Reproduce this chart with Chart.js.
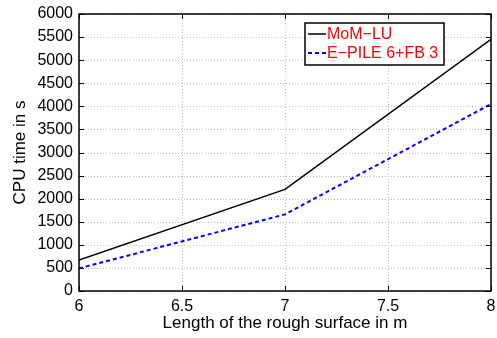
<!DOCTYPE html>
<html>
<head>
<meta charset="utf-8">
<script src="https://cdn.jsdelivr.net/npm/chart.js@4"></script>
<style>
  html, body { margin: 0; padding: 0; background: #fff; }
  #wrap { width: 497px; height: 338px; }
</style>
</head>
<body>
<div id="wrap"><canvas id="cpuChart"></canvas></div>
<script>
// lengths of the rough surface (m)
var lengths = [6, 7, 8];
// CPU time (s)
var momLu = [670, 2200, 5450];
var ePile = [490, 1660, 4050];
var seriesNames = ['MoM\u2212LU', 'E\u2212PILE 6+FB 3'];

var FONT = '"Liberation Sans", Arial, Helvetica, sans-serif';

function toPoints(xs, ys) {
    return xs.map(function (x, i) { return { x: x, y: ys[i] }; });
}

// dotted grid under the lines
var dottedGrid = {
    id: 'dottedGrid',
    beforeDatasetsDraw: function (chart) {
        var ctx = chart.ctx;
        var a = chart.chartArea;
        var xs = chart.scales.x, ys = chart.scales.y;
        ctx.save();
        ctx.strokeStyle = '#b8b8b8';
        ctx.lineWidth = 1;
        ctx.setLineDash([1, 2]);
        ctx.beginPath();
        xs.ticks.forEach(function (t) {
            var px = Math.round(xs.getPixelForValue(t.value)) + 0.5;
            ctx.moveTo(px, a.top); ctx.lineTo(px, a.bottom);
        });
        ys.ticks.forEach(function (t) {
            var py = Math.round(ys.getPixelForValue(t.value)) + 0.5;
            ctx.moveTo(a.left, py); ctx.lineTo(a.right, py);
        });
        ctx.stroke();
        ctx.restore();
    }
};

// frame + inward ticks like the matlab axes, plus boxed legend inside plot
var matlabAxes = {
    id: 'matlabAxes',
    afterDraw: function (chart) {
        var ctx = chart.ctx;
        var a = chart.chartArea;
        var xs = chart.scales.x, ys = chart.scales.y;
        ctx.save();
        ctx.strokeStyle = '#000';
        ctx.lineWidth = 1.5;
        ctx.setLineDash([]);
        ctx.strokeRect(a.left, a.top, a.right - a.left, a.bottom - a.top);
        ctx.lineWidth = 1;
        ctx.beginPath();
        xs.ticks.forEach(function (t) {
            var px = Math.round(xs.getPixelForValue(t.value)) + 0.5;
            ctx.moveTo(px, a.bottom); ctx.lineTo(px, a.bottom - 5);
            ctx.moveTo(px, a.top); ctx.lineTo(px, a.top + 5);
        });
        ys.ticks.forEach(function (t) {
            var py = Math.round(ys.getPixelForValue(t.value)) + 0.5;
            ctx.moveTo(a.left, py); ctx.lineTo(a.left + 5, py);
            ctx.moveTo(a.right, py); ctx.lineTo(a.right - 5, py);
        });
        ctx.stroke();

        // legend
        var bx = 305, by = 23, bw = 139, bh = 42;
        ctx.fillStyle = '#fff';
        ctx.fillRect(bx, by, bw, bh);
        ctx.lineWidth = 1.5;
        ctx.strokeRect(bx, by, bw, bh);
        ctx.font = '16px ' + FONT;
        ctx.textBaseline = 'middle';
        chart.data.datasets.forEach(function (ds, i) {
            var cy = by + 11 + i * 19;
            ctx.strokeStyle = ds.borderColor;
            ctx.lineWidth = ds.borderWidth;
            ctx.setLineDash(ds.borderDash || []);
            ctx.beginPath();
            ctx.moveTo(bx + 3, cy); ctx.lineTo(bx + 21, cy);
            ctx.stroke();
            ctx.setLineDash([]);
            ctx.fillStyle = '#ff0000';
            ctx.fillText(ds.label, bx + 22, cy + 1);
        });
        ctx.restore();
    }
};

function plainTick(value) {
    return String(value);
}

var ctx1 = document.getElementById('cpuChart');
var cpuChart = new Chart(ctx1, {
    type: 'line',
    data: {
        datasets: [{
            label: seriesNames[0],
            data: toPoints(lengths, momLu),
            borderColor: '#000000',
            borderWidth: 1.5,
            pointRadius: 0,
            tension: 0
        }, {
            label: seriesNames[1],
            data: toPoints(lengths, ePile),
            borderColor: '#0000ff',
            borderWidth: 2,
            borderDash: [4, 3],
            pointRadius: 0,
            tension: 0
        }]
    },
    options: {
        responsive: true,
        maintainAspectRatio: false,
        animation: false,
        layout: { padding: { top: 14, right: 6, left: 0, bottom: 0 } },
        plugins: {
            legend: { display: false },
            tooltip: { enabled: false }
        },
        scales: {
            x: {
                type: 'linear',
                min: 6,
                max: 8,
                afterFit: function (s) {
                    s.height = 47;
                    s.paddingLeft = 0;
                    s.paddingRight = 0;
                },
                ticks: {
                    stepSize: 0.5,
                    padding: 6,
                    color: '#000',
                    callback: plainTick,
                    font: { family: FONT, size: 16 }
                },
                grid: { display: false, drawTicks: false },
                border: { display: false },
                title: {
                    display: true,
                    text: 'Length of the rough surface in m',
                    color: '#000',
                    padding: 4,
                    font: { family: FONT, size: 17 }
                }
            },
            y: {
                min: 0,
                max: 6000,
                afterFit: function (s) {
                    s.width = 79;
                    s.paddingTop = 0;
                    s.paddingBottom = 0;
                },
                ticks: {
                    stepSize: 500,
                    padding: 6,
                    color: '#000',
                    callback: plainTick,
                    font: { family: FONT, size: 16 }
                },
                grid: { display: false, drawTicks: false },
                border: { display: false },
                title: {
                    display: true,
                    text: 'CPU time in s',
                    color: '#000',
                    padding: 10,
                    font: { family: FONT, size: 17 }
                }
            }
        }
    },
    plugins: [dottedGrid, matlabAxes]
});
</script>
</body>
</html>
